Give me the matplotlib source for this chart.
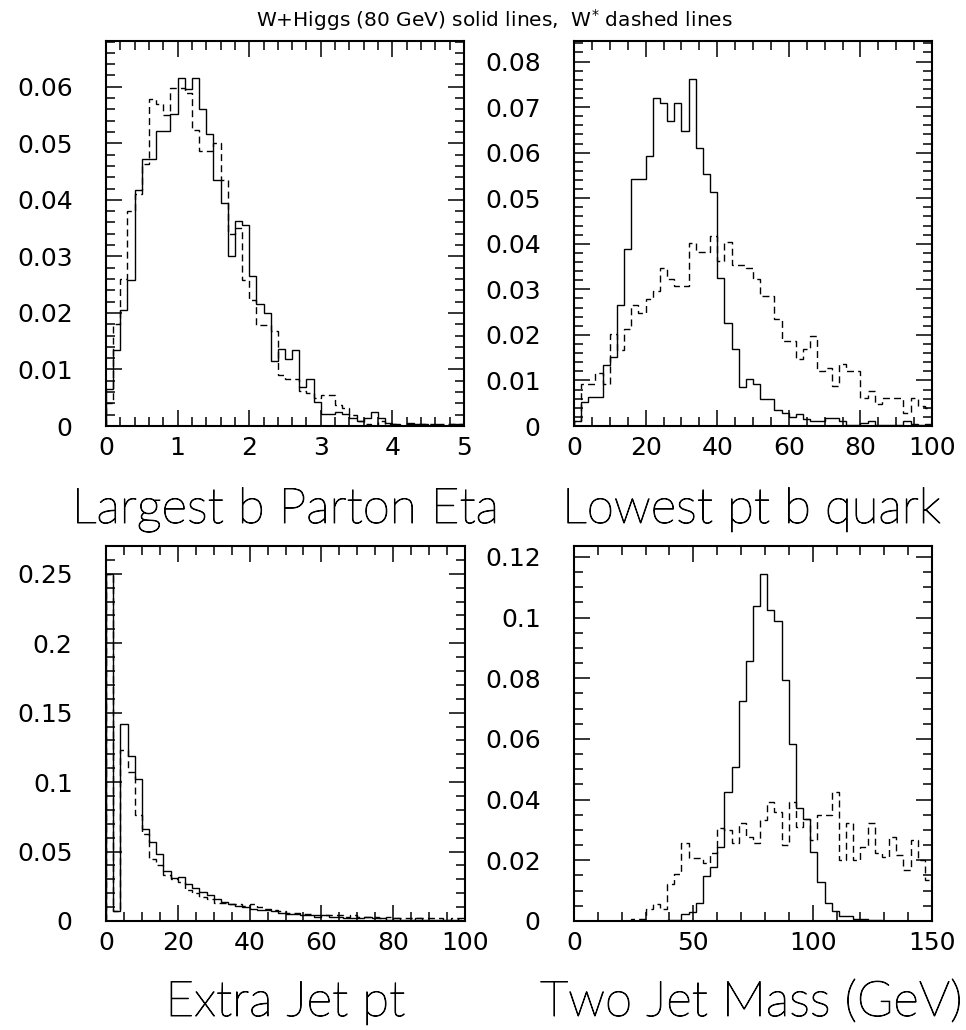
import numpy as np
import matplotlib
matplotlib.use("Agg")
import matplotlib.pyplot as plt
import matplotlib.patheffects as pe
from matplotlib.ticker import FixedLocator, MultipleLocator

plt.rcParams['font.family'] = ['DejaVu Sans']

# ---------------------------------------------------------------- data
# Largest b parton |eta| : 50 bins on [0, 5]
eta_edges = np.linspace(0.0, 5.0, 51)
eta_wh = [0.0066, 0.0134, 0.0205, 0.0259, 0.0417, 0.0472, 0.0472, 0.0521, 0.0521, 0.0552,
          0.0615, 0.0596, 0.0615, 0.0561, 0.0517, 0.0435, 0.0395, 0.0300, 0.0362, 0.0355,
          0.0265, 0.0215, 0.0199, 0.0115, 0.0137, 0.0119, 0.0134, 0.0069, 0.0084, 0.0043,
          0.0021, 0.0021, 0.0024, 0.0021, 0.0015, 0.0008, 0.0014, 0.0024, 0.0015, 0.0005,
          0.0003, 0.0000, 0.0006, 0.0003, 0.0003, 0.0000, 0.0003, 0.0000, 0.0003, 0.0003]
eta_ws = [0.0040, 0.0180, 0.0260, 0.0380, 0.0410, 0.0464, 0.0578, 0.0570, 0.0550, 0.0598,
          0.0598, 0.0589, 0.0523, 0.0486, 0.0486, 0.0500, 0.0436, 0.0340, 0.0350, 0.0258,
          0.0222, 0.0178, 0.0178, 0.0168, 0.0090, 0.0084, 0.0084, 0.0062, 0.0058, 0.0049,
          0.0054, 0.0054, 0.0037, 0.0031, 0.0019, 0.0008, 0.0003, 0.0000, 0.0008, 0.0003,
          0.0003, 0.0000, 0.0003, 0.0003, 0.0003, 0.0003, 0.0000, 0.0003, 0.0003, 0.0003]
eta_xticks = [0, 1, 2, 3, 4, 5]
eta_yticks = [0, 0.01, 0.02, 0.03, 0.04, 0.05, 0.06]

# Lowest pt b quark : 50 bins on [0, 100]
ptb_edges = np.linspace(0.0, 100.0, 51)
ptb_wh = [0.0011, 0.0053, 0.0064, 0.0064, 0.0134, 0.0152, 0.0265, 0.0388, 0.0542, 0.0542,
          0.0593, 0.0719, 0.0708, 0.0670, 0.0708, 0.0648, 0.0762, 0.0610, 0.0552, 0.0513,
          0.0325, 0.0227, 0.0168, 0.0086, 0.0103, 0.0093, 0.0059, 0.0059, 0.0035, 0.0029,
          0.0020, 0.0026, 0.0015, 0.0010, 0.0011, 0.0017, 0.0017, 0.0011, 0.0002, 0.0002,
          0.0007, 0.0011, 0.0002, 0.0002, 0.0002, 0.0002, 0.0011, 0.0005, 0.0002, 0.0005]
ptb_ws = [0.0010, 0.0093, 0.0093, 0.0117, 0.0093, 0.0201, 0.0166, 0.0213, 0.0265, 0.0248,
          0.0278, 0.0297, 0.0346, 0.0322, 0.0308, 0.0308, 0.0401, 0.0381, 0.0381, 0.0416,
          0.0363, 0.0404, 0.0354, 0.0354, 0.0346, 0.0322, 0.0286, 0.0286, 0.0234, 0.0187,
          0.0187, 0.0147, 0.0169, 0.0198, 0.0121, 0.0128, 0.0088, 0.0136, 0.0120, 0.0120,
          0.0062, 0.0077, 0.0049, 0.0061, 0.0062, 0.0062, 0.0029, 0.0062, 0.0044, 0.0039]
ptb_xticks = [0, 20, 40, 60, 80, 100]
ptb_yticks = [0, 0.01, 0.02, 0.03, 0.04, 0.05, 0.06, 0.07, 0.08]

# Extra jet pt : 50 bins on [0, 100]
jet_edges = np.linspace(0.0, 100.0, 51)
jet_wh = [0.250, 0.007, 0.142, 0.119, 0.102, 0.066, 0.057, 0.048, 0.036, 0.031,
          0.032, 0.027, 0.024, 0.021, 0.019, 0.016, 0.014, 0.012, 0.011, 0.010,
          0.009, 0.008, 0.008, 0.007, 0.006, 0.005, 0.005, 0.004, 0.004, 0.003,
          0.004, 0.003, 0.003, 0.002, 0.002, 0.002, 0.003, 0.002, 0.002, 0.001,
          0.002, 0.001, 0.001, 0.002, 0.001, 0.001, 0.001, 0.001, 0.001, 0.002]
jet_ws = [0.250, 0.007, 0.123, 0.107, 0.076, 0.063, 0.045, 0.040, 0.033, 0.030,
          0.028, 0.022, 0.020, 0.017, 0.016, 0.013, 0.013, 0.012, 0.012, 0.011,
          0.012, 0.010, 0.009, 0.008, 0.007, 0.006, 0.006, 0.005, 0.005, 0.004,
          0.004, 0.004, 0.004, 0.003, 0.004, 0.003, 0.003, 0.003, 0.002, 0.003,
          0.002, 0.002, 0.002, 0.002, 0.002, 0.002, 0.002, 0.001, 0.002, 0.001]
jet_xticks = [0, 20, 40, 60, 80, 100]
jet_yticks = [0, 0.05, 0.1, 0.15, 0.2, 0.25]

# Two jet mass : 50 bins on [0, 150] GeV
mjj_edges = np.linspace(0.0, 150.0, 51)
mjj_wh = [0, 0, 0, 0, 0, 0, 0, 0, 0, 0,
          0, 0, 0, 0.0002, 0.0004, 0.0023, 0.0029, 0.0058, 0.0148, 0.0177,
          0.0243, 0.0426, 0.0509, 0.0726, 0.0858, 0.1038, 0.1145, 0.1025, 0.0990, 0.0794,
          0.0585, 0.0371, 0.0335, 0.0228, 0.0130, 0.0060, 0.0034, 0.0016, 0.0016, 0.0005,
          0.0005, 0.0003, 0.0003, 0, 0, 0, 0, 0, 0, 0]
mjj_ws = [0, 0, 0, 0, 0, 0, 0, 0, 0.0005, 0.0005,
          0.0038, 0.0056, 0.0038, 0.0122, 0.0155, 0.0256, 0.0209, 0.0209, 0.0190, 0.0225,
          0.0308, 0.0300, 0.0256, 0.0324, 0.0276, 0.0256, 0.0333, 0.0393, 0.0360, 0.0250,
          0.0393, 0.0310, 0.0335, 0.0267, 0.0349, 0.0349, 0.0426, 0.0201, 0.0324, 0.0201,
          0.0245, 0.0324, 0.0223, 0.0212, 0.0276, 0.0217, 0.0168, 0.0267, 0.0201, 0.0135]
mjj_xticks = [0, 50, 100, 150]
mjj_yticks = [0, 0.02, 0.04, 0.06, 0.08, 0.1, 0.12]

title = "W+Higgs (80 GeV) solid lines,  W$^{*}$ dashed lines"
labels = ["Largest b Parton Eta", "Lowest pt b quark",
          "Extra Jet pt", "Two Jet Mass (GeV)"]

# ---------------------------------------------------------------- figure
W, H = 966, 1030
fig = plt.figure(figsize=(W / 100, H / 100), dpi=100)


def px_axes(x0, y0, x1, y1):
    """Axes from pixel box (left, top, right, bottom)."""
    return fig.add_axes([x0 / W, 1 - y1 / H, (x1 - x0) / W, (y1 - y0) / H])


def fmt(v):
    return "%g" % round(v, 4)


def draw(ax, edges, solid, dashed, xticks, yticks, xminor, yminor, ytop):
    ax.stairs(solid, edges, baseline=0, color="black", lw=1.0)
    ax.stairs(dashed, edges, baseline=0, color="black", lw=1.0,
              linestyle=(0, (5, 3)))
    ax.set_xlim(edges[0], edges[-1])
    ax.set_ylim(0, ytop)
    ax.xaxis.set_major_locator(FixedLocator(xticks))
    ax.yaxis.set_major_locator(FixedLocator(yticks))
    ax.set_xticklabels([fmt(v) for v in xticks])
    ax.set_yticklabels([fmt(v) for v in yticks])
    ax.xaxis.set_minor_locator(MultipleLocator(xminor))
    ax.yaxis.set_minor_locator(MultipleLocator(yminor))
    ax.tick_params(which="both", direction="in", top=True, right=True,
                   width=1.1, color="black")
    ax.tick_params(which="major", length=11.5, labelsize=18)
    ax.tick_params(which="minor", length=6.3)
    ax.tick_params(axis="y", which="major", pad=24)
    ax.tick_params(axis="x", which="major", pad=7)
    for s in ax.spines.values():
        s.set_linewidth(1.5)


ax1 = px_axes(106, 41, 464, 426)
draw(ax1, eta_edges, eta_wh, eta_ws, eta_xticks, eta_yticks, 0.2, 0.002, 0.0681)

ax2 = px_axes(574, 41, 932, 426)
draw(ax2, ptb_edges, ptb_wh, ptb_ws, ptb_xticks, ptb_yticks, 5, 0.002, 0.0845)

ax3 = px_axes(106, 546, 465, 921)
draw(ax3, jet_edges, jet_wh, jet_ws, jet_xticks, jet_yticks, 5, 0.01, 0.27)

ax4 = px_axes(574, 546, 932, 921)
draw(ax4, mjj_edges, mjj_wh, mjj_ws, mjj_xticks, mjj_yticks, 10, 0.005, 0.1236)

fig.text(494 / W, 1 - 27 / H, title, ha="center", va="baseline", fontsize=14.5)

# axis captions in a light face, with a thin outline so the strokes read solid black
stroke = [pe.withStroke(linewidth=0.7, foreground="black")]
for (cx, by), text in zip([(285, 523), (751, 523), (285, 1016), (751, 1016)], labels):
    fig.text(cx / W, 1 - by / H, text, ha="center", va="baseline", fontsize=35.5,
             family=["Lato", "DejaVu Sans"], fontweight="light", color="black",
             path_effects=stroke)

fig.savefig("out.png", dpi=100)
